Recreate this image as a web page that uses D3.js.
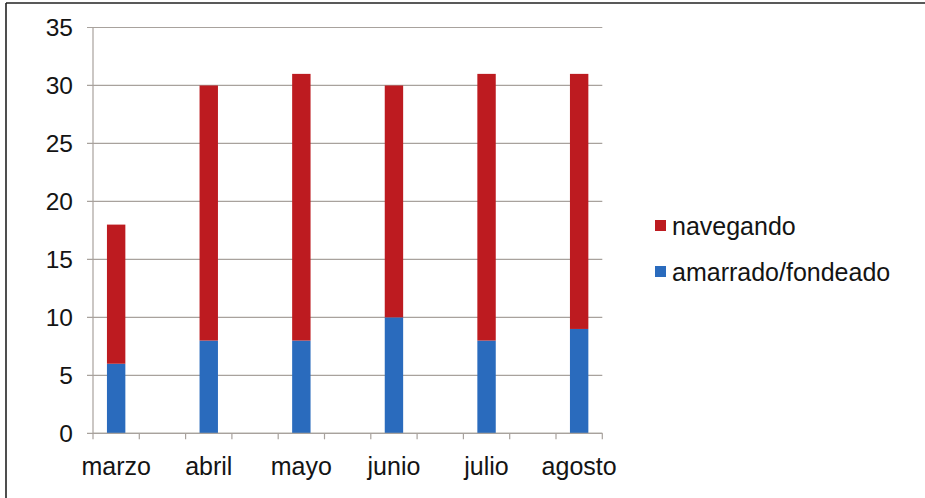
<!DOCTYPE html>
<html>
<head>
<meta charset="utf-8">
<script src="https://cdn.jsdelivr.net/npm/d3@7"></script>
<style>
  html, body { margin: 0; padding: 0; background: #fff; }
  svg { display: block; }
  text { font-family: "Liberation Sans", Arial, sans-serif; fill: #141414; }
</style>
</head>
<body>
<svg id="chart" width="925" height="498"></svg>
<script>
// Monthly days split by vessel status
const months = ["marzo", "abril", "mayo", "junio", "julio", "agosto"];
const amarrado = [6, 8, 8, 10, 8, 9];
const navegando = [12, 22, 23, 20, 23, 22];
const seriesNames = ["amarrado/fondeado", "navegando"];
const seriesColors = ["#2a6bbd", "#bd1b20"];
const yTicks = [0, 5, 10, 15, 20, 25, 30, 35];

const svg = d3.select("#chart");

// frame lines along top and left edge
svg.append("line").attr("x1", 6).attr("x2", 925).attr("y1", 3).attr("y2", 3)
  .attr("stroke", "#222").attr("stroke-width", 1.6);
svg.append("line").attr("x1", 6).attr("x2", 6).attr("y1", 3).attr("y2", 498)
  .attr("stroke", "#222").attr("stroke-width", 1.6);

const plotLeft = 93, plotTop = 27.5, plotBottom = 433.3;
const step = 92.6;           // each month occupies two half-slots; the bar sits in the first
const axisEnd = plotLeft + 5.5 * step;

const x = d3.scaleBand().domain(months).range([plotLeft, plotLeft + months.length * step]).padding(0);
const y = d3.scaleLinear().domain([0, 35]).range([plotBottom, plotTop]);

const gridColor = "#a8a29d";

// horizontal gridlines with short outer ticks
const yg = svg.append("g");
yTicks.forEach(t => {
  yg.append("line")
    .attr("x1", plotLeft - 6).attr("x2", axisEnd)
    .attr("y1", y(t)).attr("y2", y(t))
    .attr("stroke", gridColor).attr("stroke-width", 1.2);
  yg.append("text")
    .attr("x", 73).attr("y", y(t) + 8.5)
    .attr("text-anchor", "end")
    .attr("font-size", 24.5)
    .text(t);
});
// y axis line
svg.append("line").attr("x1", plotLeft).attr("x2", plotLeft).attr("y1", plotTop).attr("y2", plotBottom)
  .attr("stroke", gridColor).attr("stroke-width", 1.2);

// stacked bars
const rows = months.map((m, i) => ({ month: m, "amarrado/fondeado": amarrado[i], navegando: navegando[i] }));
const stacked = d3.stack().keys(seriesNames)(rows);
const barW = 18.4;
svg.append("g").selectAll("g").data(stacked).join("g")
  .attr("fill", (d, i) => seriesColors[i])
  .selectAll("rect").data(d => d).join("rect")
  .attr("x", d => x(d.data.month) + step / 4 - barW / 2)
  .attr("width", barW)
  .attr("y", d => y(d[1]))
  .attr("height", d => y(d[0]) - y(d[1]));

// x axis with tick marks at every half-slot
svg.append("line").attr("x1", plotLeft).attr("x2", axisEnd).attr("y1", plotBottom).attr("y2", plotBottom)
  .attr("stroke", gridColor).attr("stroke-width", 1.2);
const tickXs = [];
months.forEach(m => { tickXs.push(x(m)); tickXs.push(x(m) + step / 2); });
svg.append("g").selectAll("line").data(tickXs.filter(v => v <= axisEnd + 0.1)).join("line")
  .attr("x1", d => d).attr("x2", d => d)
  .attr("y1", plotBottom).attr("y2", plotBottom + 6)
  .attr("stroke", gridColor).attr("stroke-width", 1.2);

svg.append("g").selectAll("text").data(months).join("text")
  .attr("x", d => x(d) + step / 4)
  .attr("y", 475)
  .attr("text-anchor", "middle")
  .attr("font-size", 25)
  .text(d => d);

// legend
const legend = [
  { name: "navegando", color: seriesColors[1], y: 235 },
  { name: "amarrado/fondeado", color: seriesColors[0], y: 281 }
];
const lg = svg.append("g").selectAll("g").data(legend).join("g");
lg.append("rect")
  .attr("x", 655).attr("y", d => d.y - 15)
  .attr("width", 11).attr("height", 11)
  .attr("fill", d => d.color);
lg.append("text")
  .attr("x", 672).attr("y", d => d.y)
  .attr("font-size", 25)
  .text(d => d.name);
</script>
</body>
</html>
